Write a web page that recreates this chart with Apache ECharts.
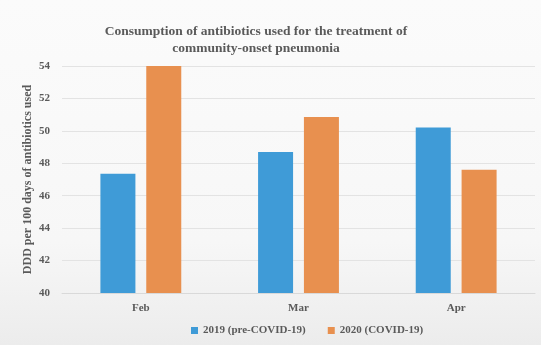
<!DOCTYPE html>
<html><head><meta charset="utf-8">
<script src="https://cdn.jsdelivr.net/npm/echarts@6/dist/echarts.min.js"></script>
<style>html,body{margin:0;padding:0;}#c{width:541px;height:345px;}</style>
</head><body><div id="c"></div>
<script>
const categories = ['Feb', 'Mar', 'Apr'];
const series2019 = [47.35, 48.7, 50.2];
const series2020 = [54.0, 50.85, 47.6];
const seriesNames = ['2019 (pre-COVID-19)', '2020 (COVID-19)'];
const yTicks = [40, 42, 44, 46, 48, 50, 52, 54];

const serif = '"Liberation Serif", "DejaVu Serif", serif';
const chart = echarts.init(document.getElementById('c'));
chart.setOption({
  backgroundColor: new echarts.graphic.LinearGradient(0, 0, 0, 1, [
    {offset: 0, color: '#fbfbfb'}, {offset: 0.7, color: '#f7f7f7'}, {offset: 1, color: '#ececec'}
  ]),
  animation: false,
  title: {
    text: 'Consumption of antibiotics used for the treatment of\ncommunity-onset pneumonia',
    left: 251, top: 18, textAlign: 'center',
    textStyle: {fontFamily: serif, fontWeight: 'bold', fontSize: 13.5, color: '#5a5a5a', lineHeight: 17}
  },
  legend: {
    bottom: 4, left: 186, itemWidth: 7, itemHeight: 7, itemGap: 22,
    icon: 'rect',
    textStyle: {fontFamily: serif, fontWeight: 'bold', fontSize: 11, color: '#5a5a5a'},
    data: seriesNames
  },
  grid: {left: 62, right: 6, top: 66, bottom: 52},
  xAxis: {
    type: 'category', data: categories,
    axisLine: {lineStyle: {color: '#d9d9d9'}},
    axisTick: {show: false},
    axisLabel: {fontFamily: serif, fontWeight: 'bold', fontSize: 11, color: '#5a5a5a', margin: 10}
  },
  yAxis: {
    type: 'value', min: yTicks[0], max: yTicks[yTicks.length - 1], interval: 2,
    name: 'DDD per 100 days of antibiotics used',
    nameLocation: 'middle', nameGap: 28, nameRotate: 90, nameMoveOverlap: false,
    nameTextStyle: {fontFamily: serif, fontWeight: 'bold', fontSize: 12, color: '#5a5a5a'},
    axisLine: {show: false}, axisTick: {show: false},
    axisLabel: {fontFamily: serif, fontWeight: 'bold', fontSize: 11, color: '#5a5a5a', margin: 12},
    splitLine: {lineStyle: {color: '#e3e3e3'}}
  },
  series: [
    {name: seriesNames[0], type: 'bar', data: series2019, barWidth: 35, barGap: '31%',
     itemStyle: {color: '#3f9bd7'}},
    {name: seriesNames[1], type: 'bar', data: series2020, barWidth: 35,
     itemStyle: {color: '#e8904f'}}
  ]
});
</script></body></html>
